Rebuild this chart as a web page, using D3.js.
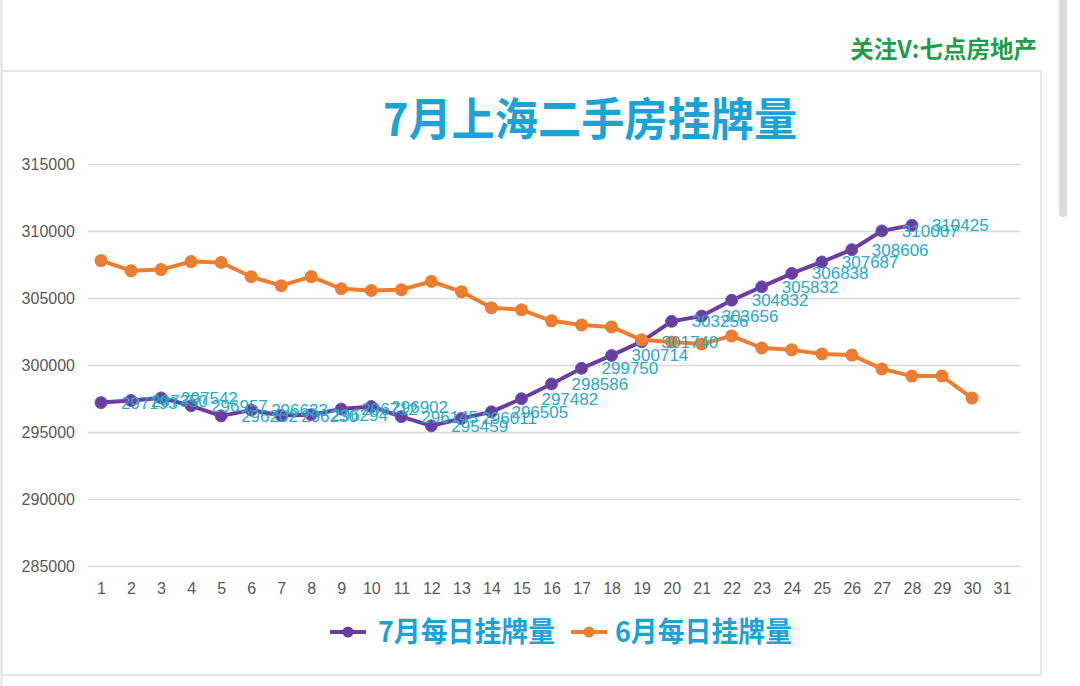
<!DOCTYPE html>
<html>
<head>
<meta charset="utf-8">
<script src="https://cdn.jsdelivr.net/npm/d3@7"></script>
<style>
  body { margin: 0; background: #fff; }
  #chart { width: 1080px; height: 686px; }
</style>
</head>
<body>
<div id="chart"></div>
<script>
// data
const days = d3.range(1, 32)
const yTicks = [285000, 290000, 295000, 300000, 305000, 310000, 315000]
const julyName = "7月每日挂牌量"
const juneName = "6月每日挂牌量"
const july = [297193, 297350, 297542, 296957, 296202, 296633, 296230, 296294, 296712, 296902,
  296145, 295459, 296011, 296505, 297482, 298586, 299750, 300714, 301740, 303256,
  303656, 304832, 305832, 306838, 307687, 308606, 310007, 310425]
const june = [307790, 307040, 307120, 307720, 307650, 306590, 305920, 306600, 305690, 305560,
  305620, 306230, 305470, 304280, 304120, 303300, 302990, 302840, 301880, 301720,
  301570, 302170, 301270, 301130, 300820, 300740, 299710, 299170, 299180, 297530]

const width = 1080
const height = 686
const purple = "#6a3d9e"
const orange = "#ed7d31"
const labelColor = "#2aa8c6"

const svg = d3.select("#chart")
  .append("svg")
  .attr("width", width)
  .attr("height", height)

// page bits: left edge, scrollbar, card frame
svg.append("line")
  .attr("x1", 1.5).attr("x2", 1.5).attr("y1", 0).attr("y2", height)
  .attr("stroke", "#e2e2e2").attr("stroke-width", 2)
svg.append("rect")
  .attr("x", 1059).attr("y", -10).attr("width", 8).attr("height", 227)
  .attr("rx", 4).attr("fill", "#dcdcdc")
svg.append("rect")
  .attr("x", 2).attr("y", 71).attr("width", 1039).attr("height", 604)
  .attr("fill", "#fff").attr("stroke", "#e0e0e0").attr("stroke-width", 1.5)

svg.append("text")
  .attr("x", 1037).attr("y", 58)
  .attr("text-anchor", "end")
  .attr("font-family", "Noto Sans CJK SC")
  .attr("font-weight", "bold")
  .attr("font-size", 23.5)
  .attr("fill", "#1e9e48")
  .text("关注V:七点房地产")

// title, a bit condensed like the original
svg.append("text")
  .attr("transform", "translate(590,136) scale(0.96,1)")
  .attr("text-anchor", "middle")
  .attr("font-family", "Noto Sans CJK SC")
  .attr("font-weight", "bold")
  .attr("font-size", 45)
  .attr("fill", "#1ba3d8")
  .text("7月上海二手房挂牌量")

const x = d3.scaleLinear()
  .domain([1, 31])
  .range([101, 1002])

const y = d3.scaleLinear()
  .domain([285000, 315000])
  .range([566, 164])

// grid + y labels
const yAxis = svg.append("g")
  .attr("transform", "translate(88,0)")
  .call(d3.axisLeft(y).tickValues(yTicks).tickSize(-932).tickPadding(13).tickFormat(d3.format("d")))
yAxis.select(".domain").remove()
yAxis.selectAll(".tick line").attr("stroke", "#d9d9d9").attr("stroke-width", 1.5)
yAxis.selectAll(".tick text")
  .attr("font-family", "Liberation Sans, Arial")
  .attr("font-size", 16)
  .attr("fill", "#595959")

// x labels
const xAxis = svg.append("g")
  .attr("transform", "translate(0,566)")
  .call(d3.axisBottom(x).tickValues(days).tickSize(0).tickPadding(17).tickFormat(d3.format("d")))
xAxis.select(".domain").remove()
xAxis.selectAll(".tick text")
  .attr("font-family", "Liberation Sans Narrow, Liberation Sans, Arial")
  .attr("font-size", 16)
  .attr("fill", "#595959")

const line = d3.line()
  .x(function (d, i) { return x(i + 1) })
  .y(function (d) { return y(d) })

// july (drawn first, june sits over it)
svg.append("path")
  .datum(july)
  .attr("fill", "none")
  .attr("stroke", purple)
  .attr("stroke-width", 4)
  .attr("stroke-linejoin", "round")
  .attr("d", line)
svg.append("g")
  .selectAll("circle")
  .data(july)
  .enter().append("circle")
  .attr("cx", function (d, i) { return x(i + 1) })
  .attr("cy", function (d) { return y(d) })
  .attr("r", 6)
  .attr("fill", purple)
  .attr("stroke", "#5b5bd0")
  .attr("stroke-width", 1)

svg.append("path")
  .datum(june)
  .attr("fill", "none")
  .attr("stroke", orange)
  .attr("stroke-width", 4)
  .attr("stroke-linejoin", "round")
  .attr("d", line)
svg.append("g")
  .selectAll("circle")
  .data(june)
  .enter().append("circle")
  .attr("cx", function (d, i) { return x(i + 1) })
  .attr("cy", function (d) { return y(d) })
  .attr("r", 6.5)
  .attr("fill", orange)

// value labels for july, placed right of each point
svg.append("g")
  .selectAll("text")
  .data(july)
  .enter().append("text")
  .attr("x", function (d, i) { return x(i + 1) + 20 })
  .attr("y", function (d) { return y(d) + 6 })
  .attr("font-family", "Liberation Sans, Arial")
  .attr("font-size", 17)
  .attr("fill", labelColor)
  .text(function (d) { return d })

// legend
const legend = svg.append("g").attr("transform", "translate(0,632)")
const items = [
  { name: julyName, color: purple, x0: 330, tx: 378 },
  { name: juneName, color: orange, x0: 571, tx: 615 }
]
const li = legend.selectAll("g")
  .data(items)
  .enter().append("g")
li.append("line")
  .attr("x1", function (d) { return d.x0 })
  .attr("x2", function (d) { return d.x0 + 36 })
  .attr("stroke", function (d) { return d.color })
  .attr("stroke-width", 4)
li.append("circle")
  .attr("cx", function (d) { return d.x0 + 18 })
  .attr("r", 5.5)
  .attr("fill", function (d) { return d.color })
li.append("text")
  .attr("transform", function (d) { return "translate(" + d.tx + ",10) scale(0.96,1)" })
  .attr("font-family", "Noto Sans CJK SC")
  .attr("font-weight", "bold")
  .attr("font-size", 28)
  .attr("fill", "#1ba3d8")
  .text(function (d) { return d.name })
</script>
</body>
</html>
